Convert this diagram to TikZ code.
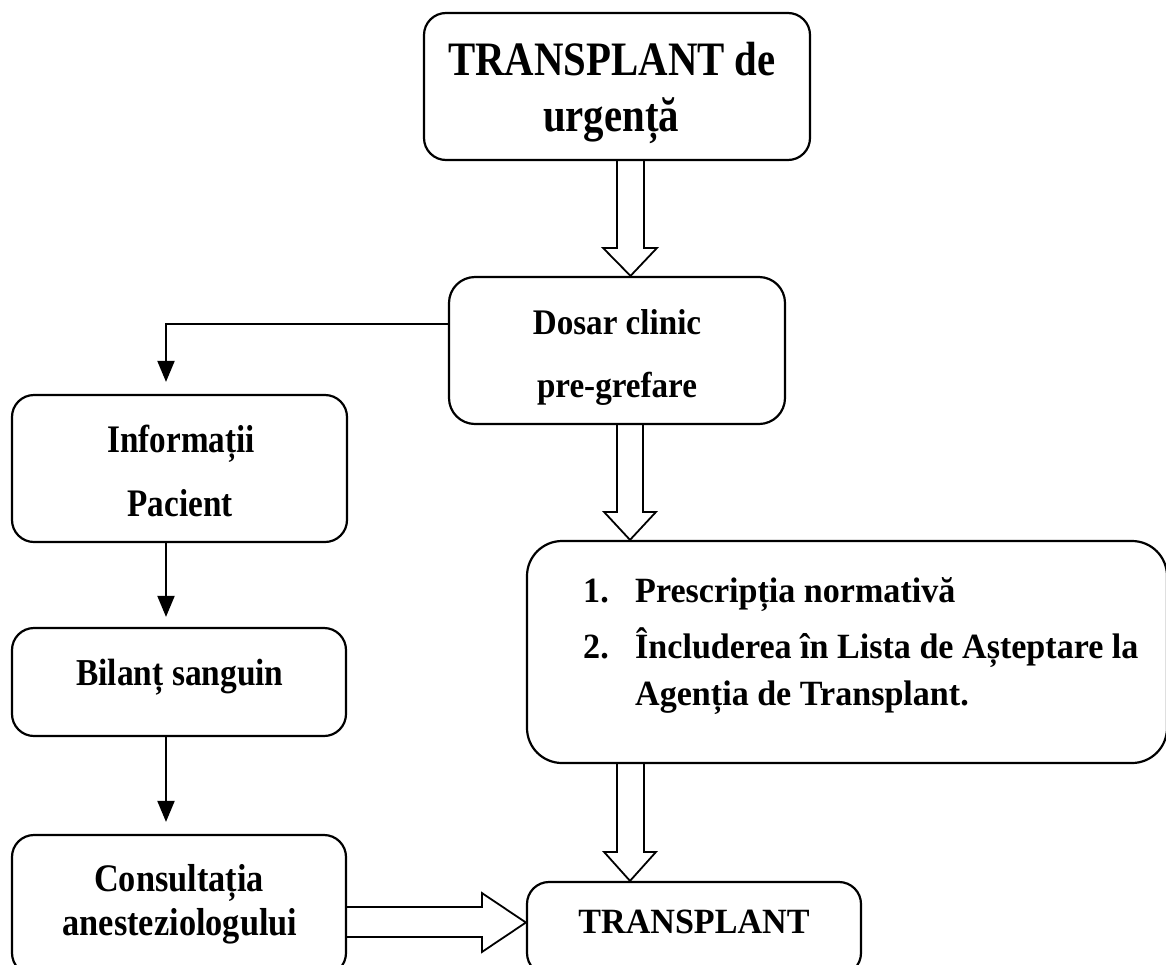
\documentclass[tikz,border=0pt]{standalone}
\usepackage{fontspec}
\setmainfont{Liberation Serif}
\newfontfamily\fA[FakeStretch=0.85]{Liberation Serif}
\newfontfamily\fB[FakeStretch=0.88]{Liberation Serif}
\newfontfamily\fC[FakeStretch=0.92]{Liberation Serif}
\newfontfamily\fD[FakeStretch=0.96]{Liberation Serif}
\usetikzlibrary{calc,arrows.meta}
\begin{document}
\begin{tikzpicture}[x=1pt,y=-1pt,
  box/.style={draw, line width=2.2pt, rounded corners=22pt, inner sep=0pt},
  txt/.style={anchor=base, inner sep=0pt},
  hol/.style={draw, line width=1.8pt, line join=miter},
  conn/.style={draw, line width=2pt, -{Triangle[length=21pt,width=17pt]}}]
\useasboundingbox (0,0) rectangle (1166,964);
\clip (0,0) rectangle (1166,964);
\fill[white] (0,0) rectangle (1166,964);

% boxes
\node[box, minimum width=386pt, minimum height=147pt] (top) at (617,86.5) {};
\node[box, minimum width=336pt, minimum height=147pt, rounded corners=26pt] (dosar) at (617,350.5) {};
\node[box, minimum width=335pt, minimum height=147pt] (info) at (179.5,468.5) {};
\node[box, minimum width=334pt, minimum height=108pt] (bilant) at (179,682) {};
\node[box, minimum width=334pt, minimum height=140pt] (consult) at (179,905) {};
\node[box, minimum width=640pt, minimum height=222pt, rounded corners=35pt] (big) at (847,652) {};
\node[box, minimum width=334pt, minimum height=93pt] (transplant) at (694,928.5) {};

% texts
\node[txt, font=\fA\bfseries\fontsize{48pt}{50pt}\selectfont] (topa) at (612,75) {TRANSPLANT de};
\node[txt, font=\fA\bfseries\fontsize{48pt}{50pt}\selectfont] (topb) at (611,131) {urgență};
\node[txt, font=\fC\bfseries\fontsize{36pt}{40pt}\selectfont] (dosara) at (617,334) {Dosar clinic};
\node[txt, font=\fC\bfseries\fontsize{36pt}{40pt}\selectfont] (dosarb) at (617,397) {pre-grefare};
\node[txt, font=\fA\bfseries\fontsize{39pt}{42pt}\selectfont] (infoa) at (181,452) {Informații};
\node[txt, font=\fA\bfseries\fontsize{39pt}{42pt}\selectfont] (infob) at (180,516) {Pacient};
\node[txt, font=\fB\bfseries\fontsize{38pt}{42pt}\selectfont] (bilanta) at (180,685) {Bilanț sanguin};
\node[txt, font=\fB\bfseries\fontsize{39pt}{42pt}\selectfont] (consulta) at (179,891) {Consultația};
\node[txt, font=\fB\bfseries\fontsize{39pt}{42pt}\selectfont] (consultb) at (180,935) {anesteziologului};
\node[txt, font=\fD\bfseries\fontsize{35.5pt}{40pt}\selectfont] (transplanta) at (694,933) {TRANSPLANT};
\node[txt, anchor=base west, font=\fD\bfseries\fontsize{35.5pt}{40pt}\selectfont] (n1) at (583,602) {1.};
\node[txt, anchor=base west, font=\fD\bfseries\fontsize{35.5pt}{40pt}\selectfont] (biga) at (635,602) {Prescripția normativă};
\node[txt, anchor=base west, font=\fD\bfseries\fontsize{35.5pt}{40pt}\selectfont] (n2) at (583,658) {2.};
\node[txt, anchor=base west, font=\fD\bfseries\fontsize{35.5pt}{40pt}\selectfont] (bigb) at (635,658) {Încluderea în Lista de Așteptare la};
\node[txt, anchor=base west, font=\fD\bfseries\fontsize{35.5pt}{40pt}\selectfont] (bigc) at (635,705) {Agenția de Transplant.};

% thin connectors
\draw[conn] ($(dosar.west)+(0,-26.5)$) -| ($(info.north)+(-13.5,-12)$);
\draw[conn] ($(info.south)+(-13.5,0)$) -- ($(bilant.north)+(-13,-10)$);
\draw[conn] ($(bilant.south)+(-13,0)$) -- ($(consult.north)+(-13,-12)$);

% hollow arrows
\draw[hol] let \p1=(top.south), \p2=(dosar.north) in
  (617pt,\y1) -- (617pt,\y2+28pt) -- (603pt,\y2+28pt) -- (630.5pt,\y2)
  -- (657pt,\y2+28pt) -- (644pt,\y2+28pt) -- (644pt,\y1);
\draw[hol] let \p1=(dosar.south), \p2=(big.north) in
  (617pt,\y1) -- (617pt,\y2+28pt) -- (604pt,\y2+28pt) -- (630pt,\y2)
  -- (656pt,\y2+28pt) -- (643pt,\y2+28pt) -- (643pt,\y1);
\draw[hol] let \p1=(big.south), \p2=(transplant.north) in
  (617pt,\y1) -- (617pt,\y2+29pt) -- (604pt,\y2+29pt) -- (630pt,\y2)
  -- (656pt,\y2+29pt) -- (644pt,\y2+29pt) -- (644pt,\y1);
\draw[hol] let \p1=(consult.east), \p2=(transplant.west) in
  (\x1,-907pt) -- (\x2-44pt,-907pt) -- (\x2-44pt,-893pt) -- (\x2,-922.5pt)
  -- (\x2-44pt,-952pt) -- (\x2-44pt,-937pt) -- (\x1,-937pt);
\end{tikzpicture}
\end{document}
